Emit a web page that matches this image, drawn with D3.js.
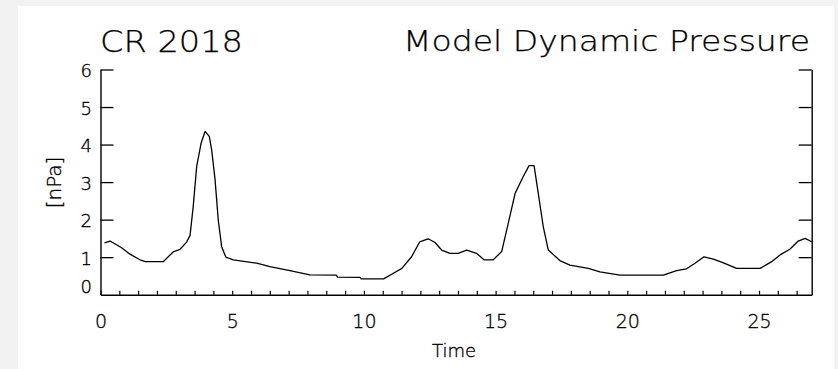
<!DOCTYPE html>
<html>
<head>
<meta charset="utf-8">
<script src="https://cdn.jsdelivr.net/npm/d3@7"></script>
<style>
  html, body { margin: 0; padding: 0; background: #f2f2f2; }
  svg { display: block; }
  text { font-family: "DejaVu Sans", "Liberation Sans", sans-serif; font-weight: 200; fill: #000; }
  text.small { stroke: #000; stroke-width: 0.35px; }
  text.big { stroke: #000; stroke-width: 0.25px; }
</style>
</head>
<body>
<svg id="chart" width="838" height="369"></svg>
<script>
// ---- data ----
const titleLeft = "CR 2018";
const titleRight = "Model Dynamic Pressure";
const xLabel = "Time";
const yLabel = "[nPa]";
const xTickLabels = [0, 5, 10, 15, 20, 25];
const yTickLabels = [0, 1, 2, 3, 4, 5, 6];
const time = [0.15, 0.36, 0.8, 1.12, 1.5, 1.7, 2.38, 2.76, 3.02, 3.27, 3.40, 3.52, 3.65, 3.82, 3.97, 4.13, 4.22, 4.35, 4.47, 4.60, 4.76, 5.04, 5.93, 6.43, 7.19, 7.95, 8.95, 9.0, 9.85, 9.9, 10.75, 11.12, 11.44, 11.81, 12.12, 12.44, 12.70, 12.95, 13.27, 13.58, 13.90, 14.28, 14.56, 14.91, 15.23, 15.48, 15.74, 16.05, 16.27, 16.46, 16.62, 16.81, 17.00, 17.44, 17.82, 18.52, 18.96, 19.72, 21.37, 21.87, 22.25, 22.57, 22.91, 23.27, 23.65, 24.15, 25.04, 25.48, 25.80, 26.17, 26.49, 26.75, 27.0];
const pressure = [1.38, 1.43, 1.25, 1.08, 0.93, 0.88, 0.88, 1.14, 1.21, 1.40, 1.58, 2.35, 3.41, 4.04, 4.35, 4.22, 3.86, 3.06, 1.99, 1.28, 1.00, 0.93, 0.84, 0.75, 0.64, 0.53, 0.52, 0.47, 0.46, 0.42, 0.42, 0.57, 0.70, 1.01, 1.41, 1.49, 1.39, 1.19, 1.10, 1.10, 1.19, 1.10, 0.93, 0.93, 1.15, 1.90, 2.70, 3.15, 3.44, 3.44, 2.70, 1.81, 1.19, 0.91, 0.79, 0.70, 0.61, 0.52, 0.52, 0.64, 0.69, 0.84, 1.01, 0.95, 0.85, 0.70, 0.70, 0.88, 1.06, 1.21, 1.43, 1.50, 1.41];
const xDomain = [0, 27];
const yDomain = [0, 6];
const xMinorStep = 5 / 7;

// ---- layout ----
const svg = d3.select("#chart");
const L = 100.5, R = 811.7, T = 69.5, B = 294.7;

svg.append("rect").attr("x", 18).attr("y", 6).attr("width", 816).attr("height", 363).attr("fill", "#fff");

const x = d3.scaleLinear().domain(xDomain).range([L, R]);
const y = d3.scaleLinear().domain(yDomain).range([B, T]);

// minor/major ticks on bottom axis (all same length, pointing up)
const minorTicks = d3.range(0, 37 + 1).map(i => i * xMinorStep).filter(v => v <= xDomain[1]);
const gx = svg.append("g").attr("transform", `translate(0,${B})`)
  .call(d3.axisTop(x).tickValues(minorTicks).tickSize(4).tickSizeOuter(0).tickFormat(""));
gx.select(".domain").attr("stroke", "#000").attr("stroke-width", 1.4);
gx.selectAll(".tick line").attr("stroke", "#000").attr("stroke-width", 1.2);

// x tick labels
const gxl = svg.append("g").attr("transform", `translate(0,${B})`)
  .call(d3.axisBottom(x).tickValues(xTickLabels).tickSize(0).tickPadding(0).tickFormat(d3.format("d")));
gxl.select(".domain").remove();
gxl.attr("font-family", null).attr("font-size", null);
gxl.selectAll(".tick text").attr("dy", null).attr("y", 33.5).attr("class", "small")
  .style("font-size", "19px").attr("fill", "#000");

// left y axis (ticks inward)
const yTicks = yTickLabels.filter(v => v > 0);
const gyl = svg.append("g").attr("transform", `translate(${L},0)`)
  .call(d3.axisRight(y).tickValues(yTicks).tickSize(13).tickSizeOuter(0).tickFormat(""));
gyl.select(".domain").attr("stroke", "#000").attr("stroke-width", 1.4);
gyl.selectAll(".tick line").attr("stroke", "#000").attr("stroke-width", 1.3);

// right y axis (ticks inward)
const gyr = svg.append("g").attr("transform", `translate(${R},0)`)
  .call(d3.axisLeft(y).tickValues(yTicks).tickSize(13).tickSizeOuter(0).tickFormat(""));
gyr.select(".domain").attr("stroke", "#000").attr("stroke-width", 1.4);
gyr.selectAll(".tick line").attr("stroke", "#000").attr("stroke-width", 1.3);

// y tick labels
svg.append("g").selectAll("text").data(yTickLabels).join("text")
  .attr("class", "small")
  .attr("x", 92)
  .attr("y", d => d === 0 ? B - 8 : y(d) + 1)
  .attr("text-anchor", "end")
  .attr("dominant-baseline", "central")
  .style("font-size", "18px")
  .text(d => d);

// line
const pts = time.map((t, i) => [t, pressure[i]]);
svg.append("path").datum(pts)
  .attr("fill", "none").attr("stroke", "#000").attr("stroke-width", 1.3)
  .attr("stroke-linejoin", "round")
  .attr("d", d3.line().x(d => x(d[0])).y(d => y(d[1])).curve(d3.curveLinear));

// titles
svg.append("text").attr("class", "big").attr("x", 100).attr("y", 52)
  .attr("textLength", 143).attr("lengthAdjust", "spacingAndGlyphs")
  .style("font-size", "30px").text(titleLeft);
svg.append("text").attr("class", "big").attr("x", 403).attr("y", 50.5)
  .attr("textLength", 407).attr("lengthAdjust", "spacingAndGlyphs")
  .style("font-size", "29px").text(titleRight);

// axis titles
svg.append("text").attr("class", "small").attr("x", 454).attr("y", 356.5).attr("text-anchor", "middle")
  .style("font-size", "18px").text(xLabel);
svg.append("text").attr("class", "small").attr("transform", "translate(61,182.5) rotate(-90)")
  .attr("text-anchor", "middle").style("font-size", "20px").text(yLabel);
</script>
</body>
</html>
